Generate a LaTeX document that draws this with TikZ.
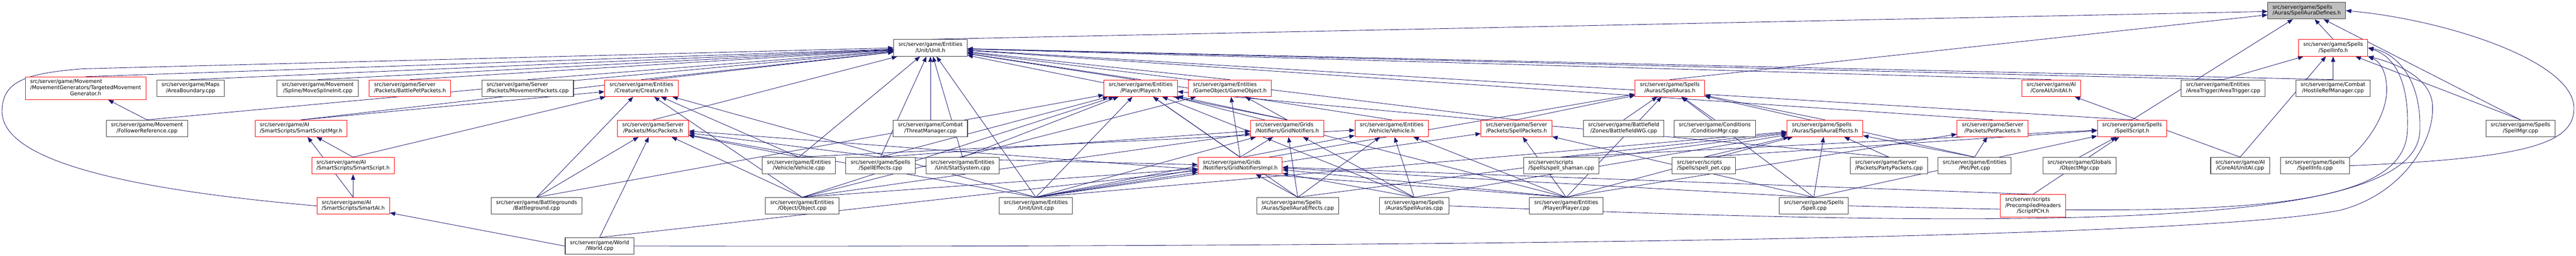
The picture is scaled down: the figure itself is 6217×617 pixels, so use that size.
\documentclass[tikz,border=0pt]{standalone}
\usepackage{fontspec}
\setmainfont{DejaVu Sans}
\usetikzlibrary{arrows.meta}
\definecolor{edgeblue}{HTML}{191970}
\definecolor{boxgray}{HTML}{404040}
\definecolor{rootfill}{HTML}{BFBFBF}
\pgfdeclarelayer{bg}
\pgfsetlayers{bg,main}
\newcommand{\fname}[2]{\begin{tabular}{@{}l@{}}#1\\\multicolumn{1}{@{}c@{}}{#2}\end{tabular}}

\begin{document}
\begin{tikzpicture}[x=0.01cm,y=0.01cm,
every node/.style={font=\fontsize{3.585pt}{4.15pt}\selectfont, inner xsep=0.115cm, inner ysep=0.055cm, fill=white},
file/.style={draw=boxgray, line width=0.4pt},
trunc/.style={draw=red, line width=0.35pt},
root/.style={draw=boxgray, line width=0.4pt, fill=rootfill},
inc/.style={draw=edgeblue, line width=0.3pt, -{Triangle[length=1.3mm,width=1mm]}}]
\useasboundingbox (0,0) rectangle (6217,617);

\node[root] (sad) at (5567,591.3) {\fname{src/server/game/Spells}{/Auras/SpellAuraDefines.h}};

\node[file] (unith) at (2245.5,501.4) {\fname{src/server/game/Entities}{/Unit/Unit.h}};
\node[trunc] (sinfoh) at (5631,501.4) {\fname{src/server/game/Spells}{/SpellInfo.h}};

\node[trunc] (tmg) at (206.7,404) {\fname{src/server/game/Movement\\/MovementGenerators/TargetedMovement}{Generator.h}};
\node[file] (abnd) at (460,404) {\fname{src/server/game/Maps}{/AreaBoundary.cpp}};
\node[file] (msi) at (767,404) {\fname{src/server/game/Movement}{/Spline/MoveSplineInit.cpp}};
\node[trunc] (bpp) at (989.5,404) {\fname{src/server/game/Server}{/Packets/BattlePetPackets.h}};
\node[file] (mpc) at (1273.5,404) {\fname{src/server/game/Server}{/Packets/MovementPackets.cpp}};
\node[trunc] (creh) at (1548,404) {\fname{src/server/game/Entities}{/Creature/Creature.h}};
\node[trunc] (plh) at (2753,404) {\fname{src/server/game/Entities}{/Player/Player.h}};
\node[trunc] (goh) at (2968,404) {\fname{src/server/game/Entities}{/GameObject/GameObject.h}};
\node[trunc] (sah) at (4030,404) {\fname{src/server/game/Spells}{/Auras/SpellAuras.h}};
\node[trunc] (uaih) at (4950.5,404) {\fname{src/server/game/AI}{/CoreAI/UnitAI.h}};
\node[file] (atc) at (5365.5,404) {\fname{src/server/game/Entities}{/AreaTrigger/AreaTrigger.cpp}};
\node[file] (hrm) at (5630.5,404) {\fname{src/server/game/Combat}{/HostileRefManager.cpp}};

\node[file] (fref) at (354.7,307) {\fname{src/server/game/Movement}{/FollowerReference.cpp}};
\node[trunc] (ssmh) at (726.7,307) {\fname{src/server/game/AI}{/SmartScripts/SmartScriptMgr.h}};
\node[trunc] (miscp) at (1576,307) {\fname{src/server/game/Server}{/Packets/MiscPackets.h}};
\node[file] (tmc) at (2245.5,307) {\fname{src/server/game/Combat}{/ThreatManager.cpp}};
\node[trunc] (gnh) at (3106.5,307) {\fname{src/server/game/Grids}{/Notifiers/GridNotifiers.h}};
\node[trunc] (vehh) at (3358.7,307) {\fname{src/server/game/Entities}{/Vehicle/Vehicle.h}};
\node[trunc] (spph) at (3660,307) {\fname{src/server/game/Server}{/Packets/SpellPackets.h}};
\node[file] (bwg) at (3918.7,307) {\fname{src/server/game/Battlefield}{/Zones/BattlefieldWG.cpp}};
\node[file] (cmgr) at (4138.5,307) {\fname{src/server/game/Conditions}{/ConditionMgr.cpp}};
\node[trunc] (saeh) at (4404.5,307) {\fname{src/server/game/Spells}{/Auras/SpellAuraEffects.h}};
\node[trunc] (petph) at (4809,307) {\fname{src/server/game/Server}{/Packets/PetPackets.h}};
\node[trunc] (ssh) at (5145.5,307) {\fname{src/server/game/Spells}{/SpellScript.h}};
\node[file] (smgr) at (6083,307) {\fname{src/server/game/Spells}{/SpellMgr.cpp}};

\node[trunc] (ssch) at (852,217) {\fname{src/server/game/AI}{/SmartScripts/SmartScript.h}};
\node[file] (vehc) at (1928,217) {\fname{src/server/game/Entities}{/Vehicle/Vehicle.cpp}};
\node[file] (seff) at (2125,217) {\fname{src/server/game/Spells}{/SpellEffects.cpp}};
\node[file] (stat) at (2323,217) {\fname{src/server/game/Entities}{/Unit/StatSystem.cpp}};
\node[trunc] (gnih) at (2993,217) {\fname{src/server/game/Grids}{/Notifiers/GridNotifiersImpl.h}};
\node[file] (shaman) at (3768,217) {\fname{src/server/scripts}{/Spells/spell\_shaman.cpp}};
\node[file] (spet) at (4112,217) {\fname{src/server/scripts}{/Spells/spell\_pet.cpp}};
\node[file] (partyp) at (4559,217) {\fname{src/server/game/Server}{/Packets/PartyPackets.cpp}};
\node[file] (petc) at (4765.5,217) {\fname{src/server/game/Entities}{/Pet/Pet.cpp}};
\node[file] (omgr) at (5018.5,217) {\fname{src/server/game/Globals}{/ObjectMgr.cpp}};
\node[file] (uaic) at (5406.5,217) {\fname{src/server/game/AI}{/CoreAI/UnitAI.cpp}};
\node[file] (sinfoc) at (5587,217) {\fname{src/server/game/Spells}{/SpellInfo.cpp}};

\node[trunc] (sai) at (852.5,120) {\fname{src/server/game/AI}{/SmartScripts/SmartAI.h}};
\node[file] (bg) at (1295,120) {\fname{src/server/game/Battlegrounds}{/Battleground.cpp}};
\node[file] (objc) at (1936,120) {\fname{src/server/game/Entities}{/Object/Object.cpp}};
\node[file] (unitc) at (2500,120) {\fname{src/server/game/Entities}{/Unit/Unit.cpp}};
\node[file] (saec) at (3132,120) {\fname{src/server/game/Spells}{/Auras/SpellAuraEffects.cpp}};
\node[file] (sac) at (3413,120) {\fname{src/server/game/Spells}{/Auras/SpellAuras.cpp}};
\node[file] (plc) at (3780,120) {\fname{src/server/game/Entities}{/Player/Player.cpp}};
\node[file] (spc) at (4377.5,120) {\fname{src/server/game/Spells}{/Spell.cpp}};
\node[trunc] (pch) at (4906.5,120) {\fname{src/server/scripts\\/PrecompiledHeaders}{/ScriptPCH.h}};

\node[file] (world) at (1447,23) {\fname{src/server/game/World}{/World.cpp}};

\begin{pgfonlayer}{bg}
\foreach \kid in {unith,sah,ssh,sinfoh,smgr} \draw[inc] (\kid.north) -- (sad);
\draw[inc] (sinfoc.east) .. controls (6100,235) and (6212,270) .. (6212,356) .. controls (6212,470) and (5900,570) .. (sad.east);
\foreach \kid in {tmg,abnd,msi,bpp,mpc,creh,fref,ssmh,miscp,tmc,seff,stat,unitc,vehc,plh,goh,gnh,vehh,spph,petph,uaih,atc,hrm,ssh} \draw[inc] (\kid.north) -- (unith);
\draw[inc] (sai.west) .. controls (300,160) and (5,230) .. (5,348) .. controls (5,420) and (60,440) .. (200,451) -- (unith.west);
\foreach \kid in {atc,hrm,smgr,uaic} \draw[inc] (\kid.north) -- (sinfoh);
\draw[inc] (spc.east) .. controls (5300,100) and (5800,90) .. (5810,300) .. controls (5815,420) and (5780,480) .. (sinfoh.east);
\draw[inc] (sac.east) .. controls (5000,60) and (5830,70) .. (5840,300) .. controls (5845,430) and (5780,490) .. (sinfoh.east);
\draw[inc] (sinfoc.north east) .. controls (5700,260) and (5760,330) .. (5760,400) .. controls (5760,450) and (5740,470) .. (sinfoh.south east);
\draw[inc] (world.east) .. controls (3500,20) and (5300,40) .. (5650,110) .. controls (5800,150) and (5880,280) .. (5870,370) .. controls (5860,440) and (5760,470) .. (sinfoh.south east);
\draw[inc] (fref.north) -- (tmg);
\foreach \kid in {ssch,sai} \draw[inc] (\kid.north) -- (ssmh);
\draw[inc] (sai.north) -- (ssch);
\draw[inc] (world.west) -- (sai);
\foreach \kid in {ssmh,ssch,bg,vehc,objc,unitc} \draw[inc] (\kid.north) -- (creh);
\foreach \kid in {bg,world,objc,unitc,plc,seff,vehc} \draw[inc] (\kid.north) -- (miscp);
\foreach \kid in {gnh,gnih,stat,seff,saec,sac,partyp,bg,objc,unitc,plc} \draw[inc] (\kid.north) -- (plh);
\foreach \kid in {gnh,gnih,objc} \draw[inc] (\kid.north) -- (goh);
\foreach \kid in {gnih,saec,sac,objc,unitc,seff} \draw[inc] (\kid.north) -- (gnh);
\foreach \kid in {saec,sac,objc,unitc,seff,plc,spc,pch,world} \draw[inc] (\kid.north) -- (gnih);
\foreach \kid in {vehc,saec,sac,unitc,plc} \draw[inc] (\kid.north) -- (vehh);
\foreach \kid in {plc,unitc,spc} \draw[inc] (\kid.north) -- (spph);
\foreach \kid in {bwg,cmgr,spph,saeh,unitc,plc,spc,petc} \draw[inc] (\kid.north) -- (sah);
\foreach \kid in {shaman,spet,partyp,spc,saec,sac,unitc,plc,petc} \draw[inc] (\kid.north) -- (saeh);
\foreach \kid in {petc,plc} \draw[inc] (\kid.north) -- (petph);
\foreach \kid in {omgr,pch,spc,spet,shaman} \draw[inc] (\kid.north) -- (ssh);
\draw[inc] (uaic.north) -- (uaih);
\end{pgfonlayer}
\end{tikzpicture}
\end{document}
